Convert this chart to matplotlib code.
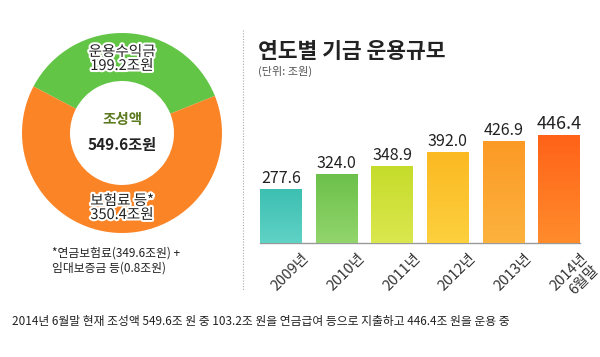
import numpy as np
import matplotlib.pyplot as plt
import matplotlib.patheffects as pe
from matplotlib.colors import LinearSegmentedColormap
from matplotlib.lines import Line2D
from matplotlib.transforms import ScaledTranslation

plt.rcParams['font.family'] = ['Noto Sans CJK KR', 'DejaVu Sans']

# donut data
parts = ['운용수익금', '보험료 등*']
part_values = [199.2, 350.4]
part_colors = ['#62c545', '#fb8427']
total = 549.6

# bar data
years = ['2009년', '2010년', '2011년', '2012년', '2013년', '2014년\n6월말']
funds = [277.6, 324.0, 348.9, 392.0, 426.9, 446.4]
top_colors = ['#3cbfb2', '#6cc04a', '#c5dc2a', '#fbb922', '#fb9a25', '#ff6218']
bottom_colors = ['#5fd2c5', '#92d56c', '#dbe74e', '#fdd03e', '#fdb23e', '#ff8c2c']

fig = plt.figure(figsize=(6, 3.57), dpi=100)

# ---- donut ----
ax1 = fig.add_axes([22 / 600, 124 / 357, 200 / 600, 200 / 357])
green_share = part_values[0] / total * 360
ax1.pie(part_values, colors=part_colors, startangle=87 - green_share / 2,
        counterclock=True, radius=1, wedgeprops=dict(width=0.48, linewidth=0))
ax1.set_xlim(-1, 1)
ax1.set_ylim(-1, 1)
stroke = [pe.withStroke(linewidth=3, foreground='white')]
ax1.text(0, 0.74, '%s\n%.1f조원' % (parts[0], part_values[0]), ha='center', va='center',
         fontsize=10.5, color='#222222', linespacing=1.0, path_effects=stroke)
ax1.text(0, -0.75, '%s\n%.1f조원' % (parts[1], part_values[1]), ha='center', va='center',
         fontsize=10.5, color='#222222', linespacing=1.0, path_effects=stroke)
ax1.text(0, 0.14, '조성액', ha='center', va='center', fontsize=10.5,
         fontweight='bold', color='#5c7a1f')
ax1.text(0, -0.12, '%.1f조원' % total, ha='center', va='center', fontsize=11,
         fontweight='bold', color='#222222')

fig.text(52 / 600, 1 - 261 / 357, '*연금보험료(349.6조원) +\n임대보증금 등(0.8조원)',
         ha='left', va='center', fontsize=8.5, color='#222222', linespacing=1.2)

# dotted separator
fig.add_artist(Line2D([243 / 600, 243 / 600], [1 - 30 / 357, 1 - 290 / 357],
                      transform=fig.transFigure, color='#aaaaaa', lw=0.8,
                      linestyle=(0, (1, 1.5))))

# ---- bars ----
fig.text(258 / 600, 1 - 51 / 357, '연도별 기금 운용규모', ha='left', va='center',
         fontsize=15.5, fontweight='bold', color='#222222')
fig.text(258 / 600, 1 - 71 / 357, '(단위: 조원)', ha='left', va='center',
         fontsize=8, color='#555555')

ax2 = fig.add_axes([260 / 600, 114 / 357, 320 / 600, 158 / 357])
x = np.arange(len(years))
bars = ax2.bar(x, funds, width=0.75, color=top_colors, zorder=2)
ax2.set_xlim(-0.375, len(years) - 0.625)
ax2.set_ylim(110, 600)
grad = np.linspace(0, 1, 100).reshape(-1, 1)
for b, c0, c1 in zip(bars, top_colors, bottom_colors):
    cm = LinearSegmentedColormap.from_list('g', [c1, c0])
    im = ax2.imshow(grad, cmap=cm, aspect='auto', origin='lower', zorder=3,
                    extent=[b.get_x(), b.get_x() + b.get_width(), 110, b.get_height()])
    im.set_clip_path(b)

for i, v in enumerate(funds):
    big = i == len(funds) - 1
    ax2.text(i, v + 6, '%.1f' % v, ha='center', va='bottom',
             fontsize=13 if big else 11.5, color='#222222')

for s in ['top', 'right', 'left']:
    ax2.spines[s].set_visible(False)
ax2.spines['bottom'].set_color('#999999')
ax2.spines['bottom'].set_linewidth(1)
ax2.set_yticks([])
ax2.set_xticks(x)
ax2.set_xticklabels(years, rotation=45, ha='right', va='top', rotation_mode='anchor',
                    fontsize=10.5, color='#333333', linespacing=1.15)
ax2.tick_params(axis='x', length=0, pad=6)
offset = ScaledTranslation(21 / 100, 0, fig.dpi_scale_trans)
for lbl in ax2.get_xticklabels():
    lbl.set_transform(lbl.get_transform() + offset)

fig.text(261 / 600, 1 - 321 / 357,
         '2014년 6월말 현재 조성액 549.6조 원 중 103.2조 원을 연금급여 등으로 지출하고 446.4조 원을 운용 중',
         ha='center', va='center', fontsize=8.5, color='#222222')

fig.savefig('out.png', dpi=100)
